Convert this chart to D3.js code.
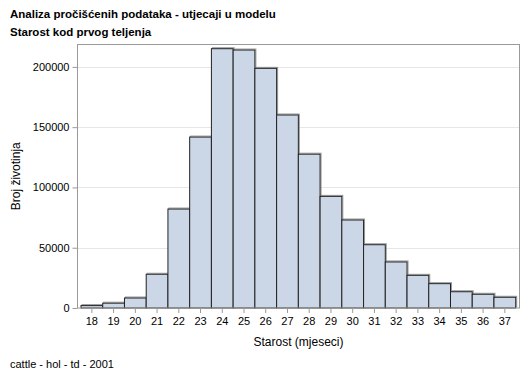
<!DOCTYPE html>
<html><head><meta charset="utf-8">
<script src="https://cdn.jsdelivr.net/npm/d3@7"></script>
<style>body{margin:0;background:#fff}svg{display:block}text{font-family:Arial,"Liberation Sans",sans-serif}</style>
</head><body><svg id="c" width="529" height="378"></svg>
<script>
const categories = [18,19,20,21,22,23,24,25,26,27,28,29,30,31,32,33,34,35,36,37];
const counts = [2000,4000,8300,28000,82100,141800,215100,214000,198800,160100,127600,92600,73000,52500,38200,27100,20200,13500,11400,8900];
const yTicks = [0,50000,100000,150000,200000];
const titles = ["Analiza pročišćenih podataka - utjecaji u modelu","Starost kod prvog teljenja"];
const footnote = "cattle - hol - td - 2001";

const svg = d3.select("#c");
const fx0 = 77.5, fx1 = 519.5, fy0 = 44.5, fy1 = 308;
const x = d3.scaleBand().domain(categories).range([81, 515.7]).padding(0);
const y = d3.scaleLinear().domain([0, 200000]).range([308, 66.9]);

// titles
titles.forEach((t,i)=>svg.append("text").attr("x",10).attr("y",18+i*18).attr("font-size",11.5).attr("font-weight","bold").attr("fill","#000").text(t));

// gridlines
svg.append("g").selectAll("line").data(yTicks.filter(d=>d>0)).join("line")
  .attr("x1",fx0).attr("x2",fx1).attr("y1",d=>Math.round(y(d))+0.5).attr("y2",d=>Math.round(y(d))+0.5)
  .attr("stroke","#e6e6e6");

// bars with shadow
svg.append("g").selectAll("rect").data(categories).join("rect")
  .attr("x",d=>x(d)+1).attr("y",(d,i)=>y(counts[i])-1).attr("width",x.bandwidth()).attr("height",(d,i)=>y(0)-y(counts[i]))
  .attr("fill","none").attr("stroke","#999");
svg.append("g").selectAll("rect").data(categories).join("rect")
  .attr("x",d=>x(d)).attr("y",(d,i)=>y(counts[i])).attr("width",x.bandwidth()).attr("height",(d,i)=>y(0)-y(counts[i]))
  .attr("fill","#cbd6e6").attr("stroke","#222").attr("stroke-width",1);

// frame
svg.append("rect").attr("x",fx0).attr("y",fy0).attr("width",fx1-fx0).attr("height",fy1-fy0)
  .attr("fill","none").attr("stroke","#9a9a9a");

// y axis
const ya = d3.axisLeft(y).tickValues(yTicks).tickFormat(d3.format("d")).tickSize(5).tickPadding(3);
const gy = svg.append("g").attr("transform",`translate(${fx0},0)`).call(ya);
gy.select(".domain").remove();
gy.selectAll("line").attr("stroke","#9a9a9a");
gy.selectAll("text").attr("font-size",11).attr("fill","#000").attr("font-family","Arial,'Liberation Sans',sans-serif");

// x axis
const xa = d3.axisBottom(x).tickSize(5).tickPadding(4);
const gx = svg.append("g").attr("transform",`translate(0,${fy1})`).call(xa);
gx.select(".domain").remove();
gx.selectAll("line").attr("stroke","#9a9a9a");
gx.selectAll("text").attr("font-size",11).attr("fill","#000").attr("font-family","Arial,'Liberation Sans',sans-serif");

// axis titles
svg.append("text").attr("x",(fx0+fx1)/2).attr("y",346).attr("text-anchor","middle").attr("font-size",12).text("Starost (mjeseci)");
svg.append("text").attr("transform",`translate(20,${(fy0+fy1)/2}) rotate(-90)`).attr("text-anchor","middle").attr("font-size",12).text("Broj životinja");

svg.append("text").attr("x",10).attr("y",368).attr("font-size",11).text(footnote);
</script></body></html>
